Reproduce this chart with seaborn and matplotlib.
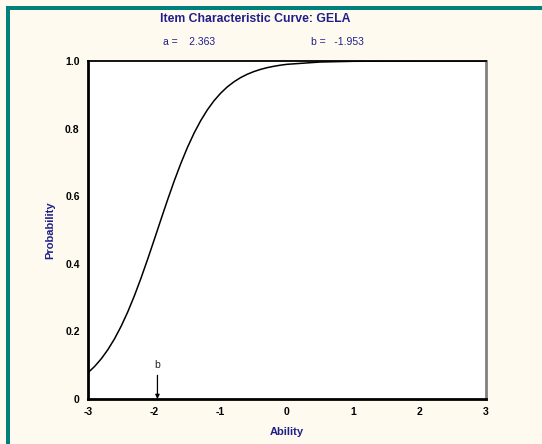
import matplotlib
matplotlib.use("Agg")
import matplotlib.pyplot as plt
from matplotlib.patches import Rectangle
import seaborn as sns
import pandas as pd

# ---- data ----
ability = [-3.0, -2.9, -2.8, -2.7, -2.6, -2.5, -2.4, -2.3, -2.2, -2.1,
           -2.0, -1.9, -1.8, -1.7, -1.6, -1.5, -1.4, -1.3, -1.2, -1.1,
           -1.0, -0.9, -0.8, -0.7, -0.6, -0.5, -0.4, -0.3, -0.2, -0.1,
           0.0, 0.5, 1.0, 1.5, 2.0, 2.5, 3.0]
probability = [0.0777, 0.0964, 0.1190, 0.1461, 0.1782, 0.2154, 0.2580, 0.3058, 0.3581, 0.4140,
               0.4722, 0.5313, 0.5894, 0.6452, 0.6972, 0.7447, 0.7870, 0.8239, 0.8556, 0.8825,
               0.9048, 0.9234, 0.9384, 0.9508, 0.9607, 0.9687, 0.9751, 0.9803, 0.9843, 0.9876,
               0.9902, 0.9970, 0.9991, 0.9997, 0.9999, 1.0000, 1.0000]
param_a = 2.363
param_b = -1.953
item_name = "GELA"
x_ticks = [-3, -2, -1, 0, 1, 2, 3]
x_ticklabels = ["-3", "-2", "-1", "0", "1", "2", "3"]
y_ticks = [0, 0.2, 0.4, 0.6, 0.8, 1.0]
y_ticklabels = ["0", "0.2", "0.4", "0.6", "0.8", "1.0"]

sns.set_style("white")
plt.rcParams['font.family'] = ['Liberation Sans', 'DejaVu Sans']

navy = "#1f1f8a"
bg = "#fffaf0"
teal = "#00807a"

fig = plt.figure(figsize=(5.42, 4.44), dpi=100, facecolor=bg)
W, H = 542, 444

# teal frame (top and left)
fig.patches.append(Rectangle((6 / W, 1 - 10 / H), 1 - 6 / W, 3.5 / H, transform=fig.transFigure,
                             facecolor=teal, edgecolor='none', zorder=0))
fig.patches.append(Rectangle((6 / W, 0), 4 / W, 1 - 6.5 / H, transform=fig.transFigure,
                             facecolor=teal, edgecolor='none', zorder=0))

ax = fig.add_axes([88 / W, 1 - 399 / H, (486 - 88) / W, (399 - 61) / H])
ax.set_facecolor("white")

df = pd.DataFrame({"Ability": ability, "Probability": probability})
sns.lineplot(data=df, x="Ability", y="Probability", ax=ax, color="black", linewidth=1.1)

ax.set_xlim(-3, 3)
ax.set_ylim(0, 1.0)
ax.set_xticks(x_ticks)
ax.set_xticklabels(x_ticklabels, fontsize=7.5, fontweight="bold")
ax.set_yticks(y_ticks)
ax.set_yticklabels(y_ticklabels, fontsize=7.5, fontweight="bold")
ax.set_xticks([-2.5, -1.5, -0.5, 0.5, 1.5, 2.5], minor=True)
ax.set_yticks([0.1, 0.3, 0.5, 0.7, 0.9], minor=True)
ax.tick_params(axis="both", which="major", direction="out", length=4, width=1.5, pad=2, colors="black")
ax.tick_params(axis="both", which="minor", direction="inout", length=3, width=1.5, colors="black")

for s in ["left", "bottom"]:
    ax.spines[s].set_color("black")
    ax.spines[s].set_linewidth(2)
ax.spines["top"].set_color("black")
ax.spines["top"].set_linewidth(1.3)
ax.spines["right"].set_color("#808080")
ax.spines["right"].set_linewidth(2)

ax.set_xlabel("Ability", fontsize=8, fontweight="bold", color=navy, labelpad=7)
ax.set_ylabel("Probability", fontsize=8, fontweight="bold", color=navy)
ax.yaxis.set_label_coords(-0.083, 0.5)

# b marker arrow
ax.annotate("", xy=(param_b, 0.0), xytext=(param_b, 0.07),
            arrowprops=dict(arrowstyle="-|>", color="black", lw=0.9, mutation_scale=6,
                            shrinkA=0, shrinkB=0))
ax.text(param_b, 0.085, "b", ha="center", va="bottom", fontsize=7.5, color="#222222")

fig.text(255 / W, 1 - 19 / H, f"Item Characteristic Curve: {item_name}", ha="center", va="center",
         fontsize=8.8, fontweight="bold", color=navy)
fig.text(163 / W, 1 - 42 / H, f"a =    {param_a:.3f}", ha="left", va="center",
         fontsize=7.5, color=navy)
fig.text(311 / W, 1 - 42 / H, f"b =   {param_b:.3f}", ha="left", va="center",
         fontsize=7.5, color=navy)

fig.savefig("out.png", dpi=100, facecolor=bg)
